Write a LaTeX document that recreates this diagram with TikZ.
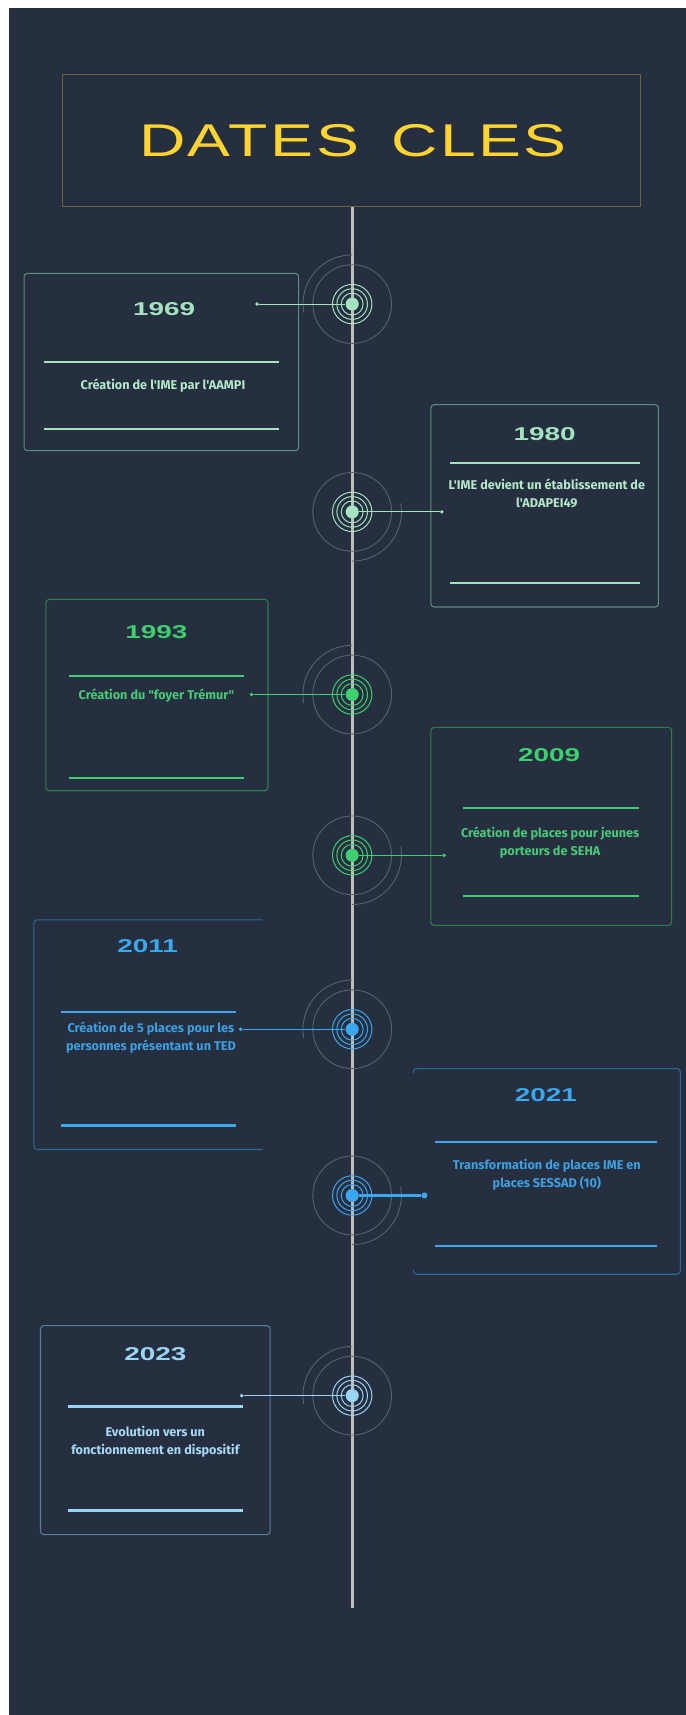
\documentclass[tikz,border=0pt]{standalone}
\usepackage{fontspec}
\usepackage{graphicx}
\newfontfamily\techfont{Liberation Sans}
\newfontfamily\titlefont{Liberation Sans}[LetterSpace=4]
\newfontfamily\descfont{Fira Sans}
\definecolor{bg}{HTML}{252F40}
\definecolor{titleyellow}{HTML}{FFD42E}
\definecolor{titleborder}{HTML}{6C6434}
\definecolor{vlinegray}{HTML}{BDBDBD}
\definecolor{ringgray}{HTML}{586273}
\definecolor{mint}{HTML}{A3E4BE}
\definecolor{minttext}{HTML}{B5E8C9}
\definecolor{mintborder}{HTML}{5E8C7A}
\definecolor{grn}{HTML}{3ECF6E}
\definecolor{grntext}{HTML}{49C977}
\definecolor{grnborder}{HTML}{2E7D4C}
\definecolor{blu}{HTML}{3BA7EE}
\definecolor{blutext}{HTML}{3EA0E0}
\definecolor{bluborder}{HTML}{2C6A9A}
\definecolor{lblu}{HTML}{9AD4F6}
\definecolor{lblutext}{HTML}{A8D8F5}
\definecolor{lbluborder}{HTML}{587D98}
\tikzset{
  titlebox/.style={draw=titleborder, line width=0.9, minimum width=529, minimum height=121, inner sep=0,
    text=titleyellow, font=\titlefont\fontsize{42}{42}\selectfont},
  vline/.style={draw=vlinegray, line width=2.6},
  grayring/.style={draw=ringgray, line width=0.8},
  evbox/.style={draw=#1, line width=1, rounded corners=3, inner sep=0},
  openbox/.style={draw=#1, line width=1, rounded corners=3},
  yeartext/.style={text=#1, inner sep=0, font=\techfont\bfseries\fontsize{17}{18}\selectfont},
  desctext/.style={text=#1, inner sep=0, align=center, font=\descfont\bfseries\fontsize{11.6}{16.5}\selectfont},
  sepline/.style={draw=#1, line width=2},
  cdot/.style={circle, fill=#1, inner sep=0, minimum size=3.5},
  cline/.style={draw=#1, line width=1},
  centerdot/.style={circle, fill=#1, inner sep=0, minimum size=12},
  ring/.style={draw=#1, line width=0.9}
}
\newcommand\tlhub[4]{%
  \coordinate (#1c) at (322,#2);
  \draw[grayring] (#1c) circle[radius=36];
  \draw[grayring] (#1c) ++(#4:45) arc[start angle=#4, delta angle=100, radius=45];
  \draw[ring=#3] (#1c) circle[radius=10] (#1c) circle[radius=14] (#1c) circle[radius=18];
  \node[centerdot=#3] (#1) at (#1c) {};
}
\newcommand\yr[1]{\scalebox{1.5}[1]{#1}}
\begin{document}
\begin{tikzpicture}[x=1pt,y=-1pt]
\useasboundingbox (0,0) rectangle (627,1568);
\fill[white] (0,0) rectangle (627,1568);
\fill[bg] (8,7) rectangle (627,1568);

% title
\node[titlebox] (title) at (321.5,128.5) {\scalebox{1.4}[1]{\hspace{1.7pt}DATES\hspace{0.5em}CLES}};
\coordinate (lineend) at (322,1470);
\draw[vline] (title.south -| lineend) -- (lineend);

% ---------- 1969 ----------
\node[evbox=mintborder, minimum width=251, minimum height=162] (b1) at (147.5,331) {};
\node[yeartext=mint] (y1) at (150,283) {\yr{1969}};
\draw[sepline=mint] (40,331) -- (255,331);
\node[desctext=minttext] (t1) at (149,353) {Création de l'IME par l'AAMPI};
\draw[sepline=mint] (40,392) -- (255,392);
\tlhub{h1}{278}{mint}{170}
\node[cdot=mint] (d1) at (235,278) {};
\draw[cline=mint] (d1) -- (h1);

% ---------- 1980 ----------
\node[evbox=mintborder, minimum width=208, minimum height=185] (b2) at (498,462.5) {};
\node[yeartext=mint] (y2) at (498,397) {\yr{1980}};
\draw[sepline=mint] (411,423) -- (585,423);
\node[desctext=minttext] (t2) at (500,451) {L'IME devient un établissement de\\l'ADAPEI49};
\draw[sepline=mint] (411,533) -- (585,533);
\tlhub{h2}{468}{mint}{-10}
\node[cdot=mint] (d2) at (404,468) {};
\draw[cline=mint] (h2) -- (d2);

% ---------- 1993 ----------
\node[evbox=grnborder, minimum width=203, minimum height=175] (b3) at (143.5,635.5) {};
\node[yeartext=grn] (y3) at (143,578) {\yr{1993}};
\draw[sepline=grn] (63,618) -- (223,618);
\node[desctext=grntext] (t3) at (143,636) {Création du "foyer Trémur"};
\draw[sepline=grn] (63,711) -- (223,711);
\tlhub{h3}{635}{grn}{170}
\node[cdot=grn] (d3) at (230,635) {};
\draw[cline=grn] (d3) -- (h3);

% ---------- 2009 ----------
\node[evbox=grnborder, minimum width=220, minimum height=181] (b4) at (504,755.5) {};
\node[yeartext=grn] (y4) at (502,690) {\yr{2009}};
\draw[sepline=grn] (423,739) -- (584,739);
\node[desctext=grntext] (t4) at (503,770) {Création de places pour jeunes\\porteurs de SEHA};
\draw[sepline=grn] (423,819) -- (584,819);
\tlhub{h4}{782}{grn}{-10}
\node[cdot=grn] (d4) at (406,782) {};
\draw[cline=grn] (h4) -- (d4);

% ---------- 2011 ----------
\coordinate (b5) at (31,841);
\draw[openbox=bluborder] (240,841) -- (b5) -- (31,1051) -- (240,1051);
\node[yeartext=blu] (y5) at (135,865) {\yr{2011}};
\draw[sepline=blu] (56,925) -- (216,925);
\node[desctext=blutext] (t5) at (138,949) {Création de 5 places pour les\\personnes présentant un TED};
\draw[sepline=blu] (56,1029) -- (216,1029);
\tlhub{h5}{941}{blu}{170}
\node[cdot=blu] (d5) at (220,941) {};
\draw[cline=blu] (d5) -- (h5);

% ---------- 2021 ----------
\coordinate (b6) at (622,977);
\draw[openbox=bluborder] (378,981) -- (378,977) -- (b6) -- (622,1165) -- (378,1165) -- (378,1161);
\node[yeartext=blu] (y6) at (499,1001) {\yr{2021}};
\draw[sepline=blu] (398,1044) -- (601,1044);
\node[desctext=blutext] (t6) at (500,1074) {Transformation de places IME en\\places SESSAD (10)};
\draw[sepline=blu] (398,1139.5) -- (601,1139.5);
\tlhub{h6}{1093}{blu}{-10}
\node[cdot=blu, minimum size=5.5] (d6) at (388,1093) {};
\draw[cline=blu, line width=2] (h6) -- (d6);

% ---------- 2023 ----------
\node[evbox=lbluborder, minimum width=210, minimum height=191] (b7) at (142,1307.5) {};
\node[yeartext=lblu] (y7) at (142,1238) {\yr{2023}};
\draw[sepline=lblu, line width=3.5] (62,1286) -- (222,1286);
\node[desctext=lblutext] (t7) at (142,1318) {Evolution vers un\\fonctionnement en dispositif};
\draw[sepline=lblu] (62,1381) -- (222,1381);
\tlhub{h7}{1276}{lblu}{170}
\node[cdot=lblu] (d7) at (221,1276) {};
\draw[cline=lblu] (d7) -- (h7);
\end{tikzpicture}
\end{document}
